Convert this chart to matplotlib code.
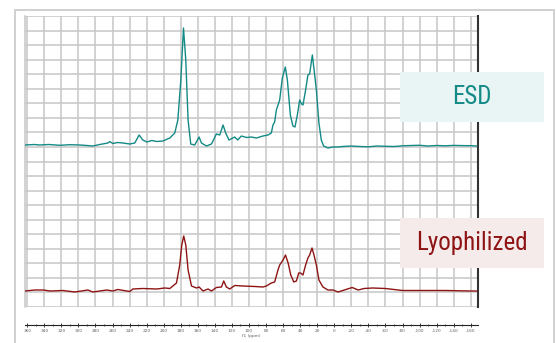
import numpy as np
import matplotlib
matplotlib.use("Agg")
import matplotlib.pyplot as plt
from matplotlib.patches import Rectangle
from matplotlib import font_manager

# ---- data (chemical shift in ppm, intensity in arbitrary units) ----
esd_ppm = [362.7, 352, 345, 335, 321.7, 310, 298.3, 290, 283.1, 274.9, 265.5, 263.1, 259.6, 254,
           247.9, 239.7, 233.9, 228.8, 224.5, 219.8, 213.9, 208.1, 201.0, 192.8, 187.0, 183.4,
           179.9, 176.8, 174.1, 171.4, 168.3, 163.6, 158.5, 155.7, 149.9, 144.0, 138.2, 134.3,
           130.4, 127.3, 123.4, 116.7, 113.2, 108.9, 103.0, 97.2, 91.3, 83.6, 77.7, 73.8, 71.9,
           69.9, 67.9, 64.0, 60.9, 57.4, 55.0, 51.5, 48.5, 46.1, 43.3, 40.6, 38.3, 36.7, 33.6,
           30.9, 28.9, 25.7, 23.0, 21.0, 18.0, 15.2, 12.5, 7.5, 1.6, -4.3,
           -10, -20, -30, -40, -50, -60, -70, -80, -90, -100, -110, -120, -130, -140, -150, -160,
           -167]
esd_int = [0, 0.5, 0, 0.5, -0.3, 0.3, 0, -0.5, -1, 0.5, 2, 3.3, 1.5, 2.5,
           2, 1, 2, 10, 5, 3, 4.5, 3.5, 4, 7, 12, 25,
           65, 117, 85, 25, 1, 0, 8, 2, -1, 1, 11, 10,
           20, 12, 5, 8, 5, 9, 7.5, 8, 7, 9, 10, 12, 20,
           23, 35, 45, 67, 78, 65, 30, 19, 18, 30, 45, 41, 40, 55,
           70, 71, 90, 70, 55, 22, 5, -1, -3, -2, -2,
           -1.5, -1, -1.5, -1.8, -1, -1.3, -1.5, -0.8, -0.5, -0.3, -1, -0.5, -0.8, -0.4, -0.6, -0.7,
           -1]

lyo_ppm = [362.7, 351, 341.1, 333.4, 318.2, 304.1, 288.9, 283.1, 266.7, 259.6, 253.8, 239.7,
           236.2, 224.5, 208.1, 198.7, 192.8, 185.0, 181.2, 178.8, 176.5, 174.1, 171.4, 167.4,
           161.6, 158.5, 153.9, 148.0, 144.0, 138.2, 132.3, 129.6, 126.5, 122.6, 116.7, 107.0,
           93.3, 83.6, 79.6, 73.8, 69.9, 66.0, 64.0, 60.0, 57.2, 54.1, 51.0, 47.5, 44.4, 41.7,
           39.4, 36.7, 33.6, 30.9, 28.9, 26.1, 23.8, 21.0, 18.0, 13.3, 7.5, 1.6, -4.3, -10,
           -21, -28, -35, -45, -60, -80, -100, -130, -160, -167]
lyo_int = [0, 1, 1, 0, 0.5, -1, 1, -1, 1, 0, 1.5, -0.5,
           2, 2.5, 2, 3, 2.5, 8, 26, 46, 55, 46, 21, 5,
           3, 4, 0, 2, 0, 3.5, 4, 10, 4, 2, 5.5, 5,
           4.5, 4, 5, 8, 9, 21, 26, 31, 36, 28, 16, 9, 10, 18,
           18, 16, 26, 33, 36, 43, 36, 26, 11, 4, 1, 1, -1, 0.5,
           3.5, 1, 2.5, 3, 2.5, 0.5, 0.5, 0.5, 0, 0]

tick_values = list(range(360, -161, -20))
labels = ["ESD", "Lyophilized"]
xlabel = "f1 (ppm)"

# ---- styling ----
W, H = 556, 343
fig = plt.figure(figsize=(W / 100, H / 100), dpi=100)
fig.patch.set_facecolor("white")

def fx(px):
    return px / W

def fy(py):
    return 1 - py / H

# choose a narrow font if one is available
names = {f.name for f in font_manager.fontManager.ttflist}
label_family, label_size = "Roboto", 15.5
for cand in ["Liberation Sans Narrow", "Roboto Condensed", "Open Sans Condensed",
             "DejaVu Sans Condensed"]:
    if cand in names:
        label_family, label_size = cand, 18
        break

# outer frame
frame = Rectangle((fx(14.5), fy(360)), fx(554) - fx(14.5), fy(9.5) - fy(360),
                  transform=fig.transFigure, fill=False, edgecolor="#d0d0d0", lw=1.4,
                  clip_on=False)
fig.add_artist(frame)

ax = fig.add_axes([fx(25), fy(307), fx(478) - fx(25), fy(16) - fy(307)])
ax.set_facecolor("white")

ESD_OFFSET = 146
teal = "#138a86"
darkred = "#8e1414"

ax.plot(esd_ppm, np.array(esd_int) + ESD_OFFSET, color=teal, lw=1.0, zorder=3)
ax.plot(lyo_ppm, lyo_int, color=darkred, lw=1.0, zorder=3)

ax.set_xlim(362.6, -168.5)
ax.set_ylim(-16, 275)

ax.set_xticks(tick_values)
ax.set_xticks(list(range(350, -161, -20)), minor=True)
ax.set_xticklabels([str(v) for v in tick_values])
ax.set_yticks(np.linspace(-16, 275, 21))
ax.tick_params(axis="y", left=False, labelleft=False)
ax.tick_params(axis="x", which="major", direction="inout", length=3, width=0.6,
               color="#222222", pad=1.2, labelsize=3.1, labelcolor="#606060")
ax.tick_params(axis="x", which="minor", direction="inout", length=1.5, width=0.5,
               color="#222222")
ax.grid(True, which="major", color="#c6c6c6", lw=1.1, zorder=0)
ax.set_axisbelow(True)

ax.spines["top"].set_visible(False)
ax.spines["left"].set_color("#c6c6c6")
ax.spines["left"].set_linewidth(1.1)
ax.spines["right"].set_color("#333333")
ax.spines["right"].set_linewidth(1.5)
ax.spines["bottom"].set_position(("outward", 13))
ax.spines["bottom"].set_color("#222222")
ax.spines["bottom"].set_linewidth(0.8)
ax.set_xlabel(xlabel, fontsize=3.1, color="#606060", labelpad=0.8)

# label boxes
box_specs = [((400, 72, 544, 122), "#e9f4f5", teal, labels[0]),
             ((400, 218, 544, 268), "#f5ebeb", darkred, labels[1])]
for (x0, y0, x1, y1), fc, tc, txt in box_specs:
    r = Rectangle((fx(x0), fy(y1)), fx(x1) - fx(x0), fy(y0) - fy(y1),
                  transform=fig.transFigure, facecolor=fc, edgecolor="none", zorder=5)
    fig.add_artist(r)
    fig.text(fx((x0 + x1) / 2), fy((y0 + y1) / 2), txt, ha="center", va="center",
             fontsize=label_size, color=tc, zorder=6, family=label_family)

fig.savefig("out.png", dpi=100)
